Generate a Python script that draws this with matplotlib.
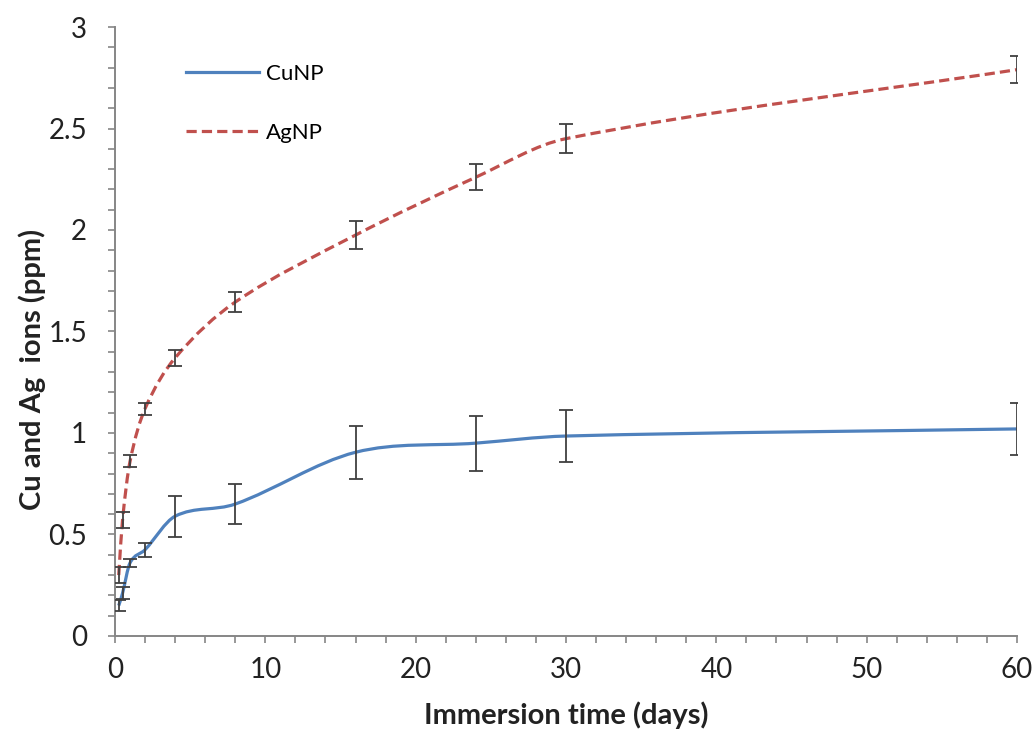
import numpy as np
import matplotlib
matplotlib.use("Agg")
import matplotlib.pyplot as plt
from matplotlib.path import Path
from matplotlib.patches import PathPatch
from matplotlib.lines import Line2D
from matplotlib.ticker import MultipleLocator

plt.rcParams['font.family'] = ['Lato', 'DejaVu Sans']

# Immersion time points (days)
days = [0.25, 0.5, 1, 2, 4, 8, 16, 24, 30, 60]

# Released ion concentration (ppm) and standard deviation
cu_mean = [0.15, 0.21, 0.36, 0.425, 0.59, 0.65, 0.905, 0.95, 0.985, 1.02]
cu_err = [0.025, 0.03, 0.02, 0.035, 0.10, 0.10, 0.13, 0.135, 0.13, 0.13]
ag_mean = [0.30, 0.57, 0.86, 1.12, 1.37, 1.645, 1.975, 2.26, 2.45, 2.79]
ag_err = [0.04, 0.04, 0.03, 0.03, 0.04, 0.05, 0.07, 0.065, 0.07, 0.065]

series_labels = ['CuNP', 'AgNP']
x_ticks = [0, 10, 20, 30, 40, 50, 60]
y_ticks = [0, 0.5, 1, 1.5, 2, 2.5, 3]
y_tick_labels = ['0', '0.5', '1', '1.5', '2', '2.5', '3']

CU_COLOR = '#4F81BD'
AG_COLOR = '#C0504D'
AXIS_COLOR = '#868686'


def smooth_path(x, y):
    """Cubic Bezier path through the points, tangents from neighbouring slopes."""
    x = np.asarray(x, float)
    y = np.asarray(y, float)
    n = len(x)
    slopes = np.empty(n)
    slopes[0] = (y[1] - y[0]) / (x[1] - x[0])
    slopes[-1] = (y[-1] - y[-2]) / (x[-1] - x[-2])
    slopes[1:-1] = (y[2:] - y[:-2]) / (x[2:] - x[:-2])
    verts = [(x[0], y[0])]
    codes = [Path.MOVETO]
    for i in range(n - 1):
        h = (x[i + 1] - x[i]) / 3.0
        verts += [(x[i] + h, y[i] + slopes[i] * h),
                  (x[i + 1] - h, y[i + 1] - slopes[i + 1] * h),
                  (x[i + 1], y[i + 1])]
        codes += [Path.CURVE4] * 3
    return Path(verts, codes)


fig = plt.figure(figsize=(10.36, 7.36), dpi=100)
ax = fig.add_axes([0.111, 0.1359, 0.8707, 0.8274])

LW = 2.3
AG_DASH = (0, (3.2, 1.6))

ax.add_patch(PathPatch(smooth_path(days, cu_mean), fill=False, zorder=3,
                       edgecolor=CU_COLOR, lw=LW, ls='-', capstyle='butt'))
ax.add_patch(PathPatch(smooth_path(days, ag_mean), fill=False, zorder=3,
                       edgecolor=AG_COLOR, lw=LW, ls=AG_DASH, capstyle='butt'))

for mean, err in ((cu_mean, cu_err), (ag_mean, ag_err)):
    ax.errorbar(days, mean, yerr=err, fmt='none', ecolor='#404040',
                elinewidth=1.3, capsize=5, capthick=1.3, zorder=4)

ax.set_xlim(0, 60)
ax.set_ylim(0, 3)
ax.set_xticks(x_ticks)
ax.set_yticks(y_ticks)
ax.set_yticklabels(y_tick_labels)
ax.xaxis.set_minor_locator(MultipleLocator(2))
ax.yaxis.set_minor_locator(MultipleLocator(0.1))

for side in ('top', 'right'):
    ax.spines[side].set_visible(False)
for side in ('left', 'bottom'):
    ax.spines[side].set_color(AXIS_COLOR)
    ax.spines[side].set_linewidth(1.4)

ax.tick_params(which='both', direction='out', color=AXIS_COLOR, width=1.2, length=5)
ax.tick_params(which='major', labelsize=20, colors=AXIS_COLOR, labelcolor='#222222')
ax.tick_params(axis='y', which='major', pad=15)
ax.tick_params(axis='x', which='major', pad=10)

ax.set_xlabel('Immersion time (days)', fontsize=21, fontweight='bold', color='#222222')
ax.xaxis.set_label_coords(0.5, -0.108)
ax.set_ylabel('Cu and Ag  ions (ppm)', fontsize=21, fontweight='bold', color='#222222')
ax.yaxis.set_label_coords(-0.076, 0.437)

handles = [Line2D([], [], color=CU_COLOR, lw=LW, ls='-'),
           Line2D([], [], color=AG_COLOR, lw=LW, ls=AG_DASH)]
ax.legend(handles, series_labels, loc='upper left', bbox_to_anchor=(0.056, 0.972),
          frameon=False, fontsize=16, handlelength=3.3, labelspacing=1.75,
          handletextpad=0.3)

fig.savefig('out.png', dpi=100, facecolor='white')
